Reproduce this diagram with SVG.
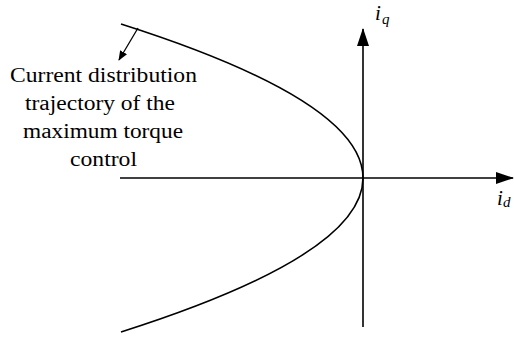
<svg xmlns="http://www.w3.org/2000/svg" width="514" height="337" viewBox="0 0 514 337">
<defs>
<marker id="ah" markerWidth="10" markerHeight="8" refX="9" refY="4" orient="auto" markerUnits="userSpaceOnUse"><path d="M0,0 L10,4 L0,8 Z" fill="#000"/></marker>
<marker id="axh" markerWidth="18" markerHeight="12" refX="17" refY="6" orient="auto" markerUnits="userSpaceOnUse"><path d="M0,0 L18,6 L0,12 Z" fill="#000"/></marker>
</defs>
<g id="connectors" stroke="#000" fill="none" stroke-width="1.6">
<line id="d-axis" x1="120" y1="178" x2="513" y2="178" marker-end="url(#axh)"/>
<line id="q-axis" x1="363" y1="327" x2="363" y2="29" marker-end="url(#axh)"/>
<path id="trajectory" d="M121,24 Q605,178 121,332"/>
<line id="pointer" stroke-width="1.3" x1="138" y1="28" x2="119" y2="60" marker-end="url(#ah)"/>
</g>
<g id="label-iq" font-family="'Times New Roman', 'Liberation Serif', serif" font-style="italic" fill="#000"><text x="375" y="20" font-size="21">i</text><text x="382" y="24" font-size="15">q</text></g>
<g id="label-id" font-family="'Times New Roman', 'Liberation Serif', serif" font-style="italic" fill="#000"><text x="497" y="205" font-size="21">i</text><text x="503" y="207" font-size="15">d</text></g>
<g id="annotation" font-family="'Times New Roman', 'Liberation Serif', serif" font-size="20" fill="#000">
<text x="10" y="82" textLength="187" lengthAdjust="spacingAndGlyphs">Current distribution</text>
<text x="25" y="110" textLength="150" lengthAdjust="spacingAndGlyphs">trajectory of the</text>
<text x="23" y="138" textLength="160" lengthAdjust="spacingAndGlyphs">maximum torque</text>
<text x="70" y="166" textLength="67" lengthAdjust="spacingAndGlyphs">control</text>
</g>
</svg>
